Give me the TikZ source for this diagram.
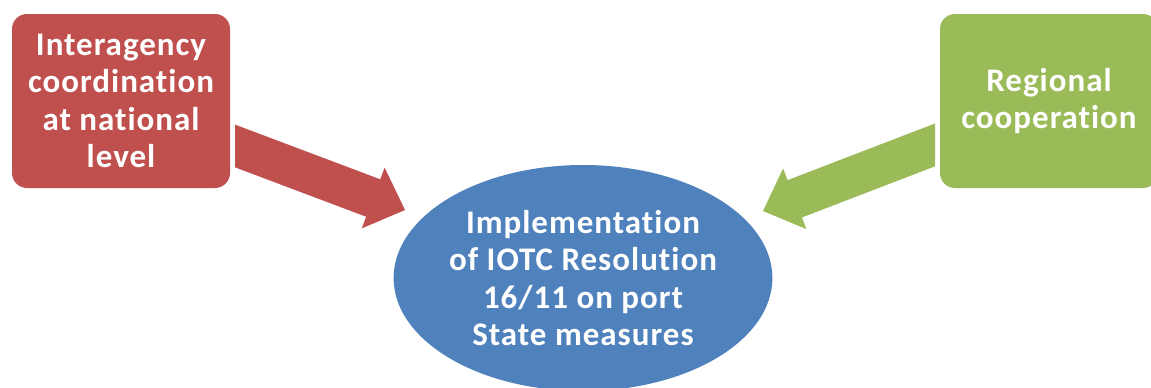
\documentclass[tikz,border=0pt]{standalone}
\usepackage{fontspec}
\setmainfont{Carlito}[LetterSpace=3, Ligatures=NoCommon]
\usetikzlibrary{
  arrows.meta,
  shapes.geometric,
  calc
}
\definecolor{boxred}{RGB}{192,80,77}
\definecolor{boxgreen}{RGB}{155,187,89}
\definecolor{boxblue}{RGB}{79,129,189}
% filled block arrow: colour, start, tip
\newcommand{\blockarrow}[3]{%
  \coordinate (head) at ($(#3)!34pt!(#2)$);
  \fill [#1] ($(#2)!20pt!90:(#3)$) -- ($(head)!20pt!90:(#3)$) -- ($(head)!32.5pt!90:(#3)$)
    -- (#3) -- ($(head)!32.5pt!-90:(#3)$) -- ($(head)!20pt!-90:(#3)$) -- ($(#2)!20pt!-90:(#3)$) -- cycle;
}

\begin{document}
\begin{tikzpicture}[x=1pt, y=-1pt,
            block/.style={rectangle, text=white, font=\fontsize{33}{37.5}\selectfont\bfseries, align=center, rounded corners=15pt, minimum width=218pt, minimum height=174pt, inner sep=0pt},
            goal/.style={ellipse, fill=boxblue, text=white, font=\fontsize{33}{37.5}\selectfont\bfseries, align=center, minimum width=378pt, minimum height=226pt, inner sep=0pt}]
            \useasboundingbox (0,0) rectangle (1151,388);
            \node [block, fill=boxred] (inter) at (121,101) {Interagency\\coordination\\at national\\level};
            \node [block, fill=boxgreen] (regional) at (1049,101) {Regional\\cooperation};
            \node [goal] (impl) at (583,278) {Implementation\\of IOTC Resolution\\16/11 on port\\State measures};

            \coordinate (redstart) at ($(inter.east)+(-15,37.5)$);
            \coordinate (redtip) at ($(impl.center)+(-178,-68)$);
            \coordinate (greenstart) at ($(regional.west)+(15,36.3)$);
            \coordinate (greentip) at ($(impl.center)+(180,-67)$);

            \begin{scope}
              \clip (235,0) rectangle (930,388);
              \blockarrow{boxred}{redstart}{redtip}
            \end{scope}
            \begin{scope}
              \clip (240,0) rectangle (935,388);
              \blockarrow{boxgreen}{greenstart}{greentip}
            \end{scope}
\end{tikzpicture}
\end{document}
